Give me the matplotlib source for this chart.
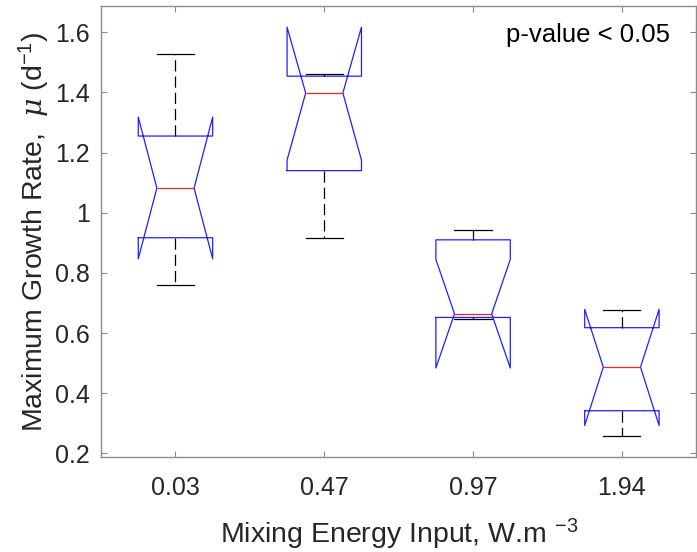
import matplotlib
matplotlib.use('Agg')
import matplotlib.pyplot as plt

# Growth-rate summaries per mixing-energy level
energy_labels = ['0.03', '0.47', '0.97', '1.94']
whisker_low = [0.761, 0.916, 0.646, 0.258]
q1 = [0.917, 1.140, 0.652, 0.342]
notch_low = [0.847, 1.175, 0.484, 0.293]
median = [1.082, 1.398, 0.664, 0.487]
notch_high = [1.318, 1.617, 0.845, 0.679]
q3 = [1.255, 1.454, 0.910, 0.618]
whisker_high = [1.527, 1.461, 0.944, 0.678]
yticks = [0.2, 0.4, 0.6, 0.8, 1.0, 1.2, 1.4, 1.6]
ytick_labels = ['0.2', '0.4', '0.6', '0.8', '1', '1.2', '1.4', '1.6']

plt.rcParams['font.family'] = ['Liberation Sans', 'DejaVu Sans']
plt.rcParams['mathtext.fontset'] = 'custom'
plt.rcParams['mathtext.rm'] = 'Liberation Sans'
plt.rcParams['mathtext.sf'] = 'Liberation Sans'
plt.rcParams['mathtext.it'] = 'DejaVu Serif:italic'

fig = plt.figure(figsize=(6.97, 5.52), dpi=100)
ax = fig.add_axes([0.145, 0.172, 0.854, 0.817])

stats = []
for i, lab in enumerate(energy_labels):
    stats.append(dict(label=lab, med=median[i], q1=q1[i], q3=q3[i],
                      whislo=whisker_low[i], whishi=whisker_high[i],
                      cilo=notch_low[i], cihi=notch_high[i], fliers=[]))

lw = 0.9
ax.bxp(stats, positions=range(1, len(stats) + 1), widths=0.5,
       shownotches=True, showfliers=False, manage_ticks=False,
       boxprops=dict(color='#2020ff', lw=lw),
       medianprops=dict(color='#ff2020', lw=lw),
       whiskerprops=dict(color='black', lw=lw, ls=(0, (9, 4))),
       capprops=dict(color='black', lw=lw))

ax.set_xlim(0.5, 4.5)
ax.set_ylim(0.188, 1.687)
ax.set_xticks(range(1, len(energy_labels) + 1))
ax.set_xticklabels(energy_labels)
ax.set_yticks(yticks)
ax.set_yticklabels(ytick_labels)

frame = '#8c8c8c'
for s in ax.spines.values():
    s.set_color(frame)
    s.set_linewidth(1.0)
ax.tick_params(direction='in', length=4, width=0.8, color=frame,
               labelsize=18, labelcolor='#262626', top=True, right=True, pad=8)
ax.tick_params(axis='x', pad=13.5)

ax.set_xlabel('Mixing Energy Input, W.m $^{-3}$', fontsize=20.5, color='#262626', labelpad=12)
ax.set_ylabel('Maximum Growth Rate,  $\\mu$ (d$^{-1}$)', fontsize=20.5, color='#262626', labelpad=2)

ax.text(0.955, 0.935, 'p-value < 0.05', transform=ax.transAxes, ha='right', va='center',
        fontsize=18.5, color='black')

fig.savefig('out.png', dpi=100)
